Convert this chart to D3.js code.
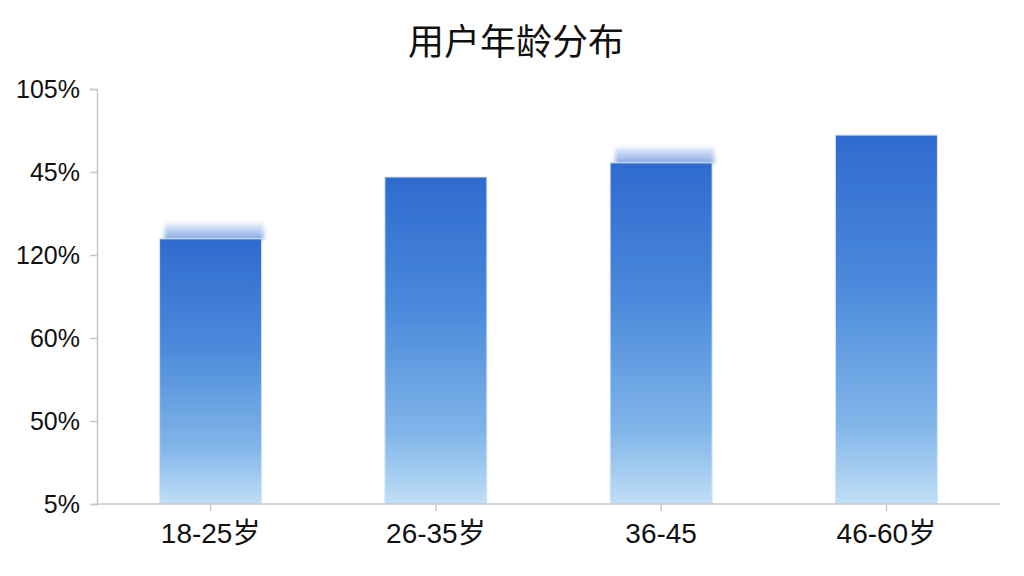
<!DOCTYPE html>
<html>
<head>
<meta charset="utf-8">
<script src="https://cdn.jsdelivr.net/npm/d3@7.9.0/dist/d3.min.js"></script>
<style>
  html, body { margin: 0; padding: 0; background: #fff; }
  svg { display: block; font-family: "Liberation Sans", Arial, "Noto Sans CJK SC", sans-serif; }
</style>
</head>
<body>
<svg id="chart" width="1024" height="576"></svg>
<script>
// data
const title = '用户年龄分布';
const ageGroups = ['18-25岁', '26-35岁', '36-45', '46-60岁'];
const shares = [63.9, 78.8, 82.2, 88.9];
// faint blurred "ghost" tops above some bars
const ghostShares = [68.7, null, 87.0, null];
const yTickValues = [0, 20, 40, 60, 80, 100];
const yTickLabels = ['5%', '50%', '60%', '120%', '45%', '105%'];

const svg = d3.select('#chart');
const margin = { top: 89, right: 24, bottom: 72, left: 97 };
const W = 1024, H = 576;

const x = d3.scaleBand()
  .domain(ageGroups)
  .range([margin.left + 1, W - margin.right - 1])
  .paddingInner(0.547)
  .paddingOuter(0.2735);

const y = d3.scaleLinear()
  .domain([0, 100])
  .range([H - margin.bottom, margin.top]);

const defs = svg.append('defs');

const grad = defs.append('linearGradient')
  .attr('id', 'barGrad')
  .attr('x1', 0).attr('y1', 0).attr('x2', 0).attr('y2', 1);
grad.append('stop').attr('offset', '0%').attr('stop-color', '#2f6bcf');
grad.append('stop').attr('offset', '40%').attr('stop-color', '#4a89db');
grad.append('stop').attr('offset', '78%').attr('stop-color', '#80b5e9');
grad.append('stop').attr('offset', '100%').attr('stop-color', '#c0def6');

const ghostGrad = defs.append('linearGradient')
  .attr('id', 'ghostGrad')
  .attr('x1', 0).attr('y1', 0).attr('x2', 0).attr('y2', 1);
ghostGrad.append('stop').attr('offset', '0%').attr('stop-color', '#ffffff').attr('stop-opacity', 0);
ghostGrad.append('stop').attr('offset', '35%').attr('stop-color', '#c9d8f4').attr('stop-opacity', 0.8);
ghostGrad.append('stop').attr('offset', '100%').attr('stop-color', '#7fa3e2');

defs.append('filter')
  .attr('id', 'blur')
  .attr('x', '-10%').attr('y', '-50%').attr('width', '120%').attr('height', '200%')
  .append('feGaussianBlur')
  .attr('stdDeviation', '2.2 1.4');

// title
svg.append('text')
  .attr('x', 516)
  .attr('y', 55)
  .attr('text-anchor', 'middle')
  .attr('font-size', 36)
  .attr('font-family', '"Noto Sans CJK SC", sans-serif')
  .attr('fill', '#111')
  .text(title);

// ghost tops
const rows = ageGroups.map((g, i) => ({ group: g, value: shares[i], ghost: ghostShares[i] }));

svg.append('g')
  .selectAll('rect')
  .data(rows.filter((d) => d.ghost != null))
  .join('rect')
  .attr('x', (d) => x(d.group) + 5)
  .attr('width', x.bandwidth() - 3)
  .attr('y', (d) => y(d.ghost))
  .attr('height', (d) => y(d.value) - y(d.ghost) + 1)
  .attr('fill', 'url(#ghostGrad)')
  .attr('filter', 'url(#blur)');

// bars
svg.append('g')
  .selectAll('rect')
  .data(rows)
  .join('rect')
  .attr('x', (d) => x(d.group))
  .attr('width', x.bandwidth())
  .attr('y', (d) => y(d.value))
  .attr('height', (d) => y(0) - y(d.value))
  .attr('fill', 'url(#barGrad)')
  .attr('stroke', '#d6e8f8')
  .attr('stroke-width', 1);

// y axis
const yAxis = svg.append('g')
  .attr('transform', `translate(${margin.left},0)`)
  .call(d3.axisLeft(y)
    .tickValues(yTickValues)
    .tickFormat((d, i) => yTickLabels[i])
    .tickSize(7)
    .tickPadding(10));
yAxis.select('.domain').attr('stroke', '#c8c8c8').attr('stroke-width', 1.5);
yAxis.selectAll('.tick line').attr('stroke', '#c8c8c8').attr('stroke-width', 1.5);
yAxis.selectAll('.tick text')
  .attr('font-size', 25)
  .attr('font-family', '"Liberation Sans", Arial, sans-serif')
  .attr('fill', '#111');

// x axis
const xAxis = svg.append('g')
  .attr('transform', `translate(0,${y(0)})`)
  .call(d3.axisBottom(x).tickSize(7).tickPadding(12).tickSizeOuter(0));
xAxis.select('.domain')
  .attr('d', `M${margin.left},0H${W - margin.right}`)
  .attr('stroke', '#c8c8c8').attr('stroke-width', 1.5);
xAxis.selectAll('.tick line').attr('stroke', '#c8c8c8').attr('stroke-width', 1.5);
xAxis.selectAll('.tick text')
  .attr('font-size', 28)
  .attr('font-family', '"Liberation Sans", Arial, "Noto Sans CJK SC", sans-serif')
  .attr('fill', '#111');
</script>
</body>
</html>
